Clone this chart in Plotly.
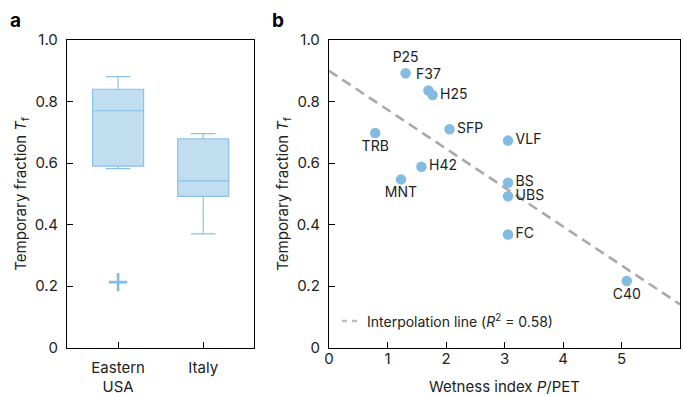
import plotly.graph_objects as go

# ---------------- data ----------------
# Panel a: box statistics of temporary fraction Tf
box_regions = ["Eastern USA", "Italy"]
box_ticktext = ["Eastern<br>USA", "Italy"]
box_q1 = [0.590, 0.492]
box_median = [0.770, 0.542]
box_q3 = [0.840, 0.679]
box_lower = [0.582, 0.370]
box_upper = [0.881, 0.696]
outlier_region = ["Eastern USA"]
outlier_value = [0.213]

# Panel b: sites, wetness index vs temporary fraction
site_names = ["P25", "F37", "H25", "SFP", "VLF", "TRB", "H42", "MNT", "BS", "UBS", "FC", "C40"]
site_wetness = [1.31, 1.70, 1.77, 2.06, 3.06, 0.79, 1.58, 1.23, 3.06, 3.06, 3.06, 5.09]
site_tf = [0.892, 0.836, 0.821, 0.710, 0.673, 0.698, 0.588, 0.547, 0.536, 0.492, 0.368, 0.217]
site_labelpos = ["top center", "top center", "middle right", "middle right", "middle right",
                 "bottom center", "middle right", "bottom center", "middle right",
                 "middle right", "middle right", "bottom center"]

# Interpolation line
fit_intercept = 0.900
fit_slope = -0.1265
fit_x = [0, 6]
fit_y = [fit_intercept + fit_slope * v for v in fit_x]

y_ticks = [0, 0.2, 0.4, 0.6, 0.8, 1.0]
y_ticktext = ["0", "0.2", "0.4", "0.6", "0.8", "1.0"]
x_ticks_b = [0, 1, 2, 3, 4, 5, 6]

# ---------------- style ----------------
FONT = "Inter"
TXT = "#222222"
BLUE = "#82bce3"
BOX_FILL = "rgba(160,203,232,0.65)"
BOX_LINE = "#8ac1e6"
MED_LINE = "#6eb0dd"
FS = 15

fig = go.Figure()

fig.add_trace(go.Box(
    x=box_regions, q1=box_q1, median=box_median, q3=box_q3,
    lowerfence=box_lower, upperfence=box_upper,
    fillcolor=BOX_FILL, line=dict(color=BOX_LINE, width=1.2),
    width=0.6, whiskerwidth=0.48, boxpoints=False,
    xaxis="x", yaxis="y", showlegend=False, hoverinfo="skip",
))
# thicker median bars drawn over the boxes
for i, (reg, med) in enumerate(zip(box_regions, box_median)):
    fig.add_trace(go.Scatter(
        x=[i - 0.3, i + 0.3], y=[med, med], mode="lines",
        line=dict(color=MED_LINE, width=2.2),
        xaxis="x", yaxis="y", showlegend=False, hoverinfo="skip",
    ))
fig.add_trace(go.Scatter(
    x=outlier_region, y=outlier_value, mode="markers",
    marker=dict(symbol="cross-thin", size=13, line=dict(color=BLUE, width=2.6)),
    xaxis="x", yaxis="y", showlegend=False, hoverinfo="skip",
))

fig.add_trace(go.Scatter(
    x=fit_x, y=fit_y, mode="lines",
    line=dict(color="#a9a9a9", width=2.6, dash="10px,6px"),
    xaxis="x2", yaxis="y2", showlegend=False, hoverinfo="skip",
))
fig.add_trace(go.Scatter(
    x=site_wetness, y=site_tf, mode="markers+text",
    text=site_names, textposition=site_labelpos,
    textfont=dict(family=FONT, size=14, color=TXT),
    marker=dict(color=BLUE, size=10.5),
    xaxis="x2", yaxis="y2", showlegend=False, hoverinfo="skip", cliponaxis=False,
))

axis_common = dict(
    showline=True, linecolor="black", linewidth=1.3, mirror=True,
    ticks="inside", ticklen=6, tickwidth=1.1, tickcolor="black",
    showgrid=False, zeroline=False, automargin=False,
    tickfont=dict(family=FONT, size=FS, color=TXT),
)

fig.update_layout(
    width=683, height=396,
    margin=dict(l=0, r=0, t=0, b=0),
    paper_bgcolor="white", plot_bgcolor="white",
    font=dict(family=FONT, size=FS, color=TXT),
    xaxis=dict(domain=[67/683, 254.3/683], type="category", range=[-0.6, 1.6],
               tickvals=box_regions, ticktext=box_ticktext, ticklabelstandoff=6,
               anchor="y", **axis_common),
    yaxis=dict(domain=[1 - 347.7/396, 1 - 40/396], range=[0, 1.0],
               tickvals=y_ticks, ticktext=y_ticktext, ticklabelstandoff=5,
               title=dict(text="Temporary fraction <i>T</i><sub>f</sub>", standoff=4,
                          font=dict(family=FONT, size=FS, color=TXT)),
               anchor="x", **axis_common),
    xaxis2=dict(domain=[329/683, 680/683], range=[0, 6], tickvals=x_ticks_b,
                ticklabelstandoff=-3,
                title=dict(text="Wetness index <i>P</i>/PET", standoff=14,
                           font=dict(family=FONT, size=FS, color=TXT)),
                anchor="y2", **axis_common),
    yaxis2=dict(domain=[1 - 347.7/396, 1 - 40/396], range=[0, 1.0],
                tickvals=y_ticks, ticktext=y_ticktext, ticklabelstandoff=5,
                title=dict(text="Temporary fraction <i>T</i><sub>f</sub>", standoff=4,
                           font=dict(family=FONT, size=FS, color=TXT)),
                anchor="x2", **axis_common),
    showlegend=False,
)

# panel letters
fig.add_annotation(text="<b>a</b>", x=8/683, y=1 - 21/396, xref="paper", yref="paper",
                   xanchor="left", yanchor="middle", showarrow=False,
                   font=dict(family=FONT, size=19, color="black"))
fig.add_annotation(text="<b>b</b>", x=270/683, y=1 - 21/396, xref="paper", yref="paper",
                   xanchor="left", yanchor="middle", showarrow=False,
                   font=dict(family=FONT, size=19, color="black"))

# manual legend for interpolation line
fig.add_shape(type="line", xref="paper", yref="paper",
              x0=342/683, x1=358/683, y0=1 - 321/396, y1=1 - 321/396,
              line=dict(color="#bdbdbd", width=2.6, dash="5px,5px"))
fig.add_annotation(text="Interpolation line (<i>R</i><sup>2</sup> = 0.58)",
                   x=365/683, y=1 - 321/396, xref="paper", yref="paper",
                   xanchor="left", yanchor="middle", showarrow=False,
                   font=dict(family=FONT, size=14, color=TXT))

fig.write_html("out.html")
